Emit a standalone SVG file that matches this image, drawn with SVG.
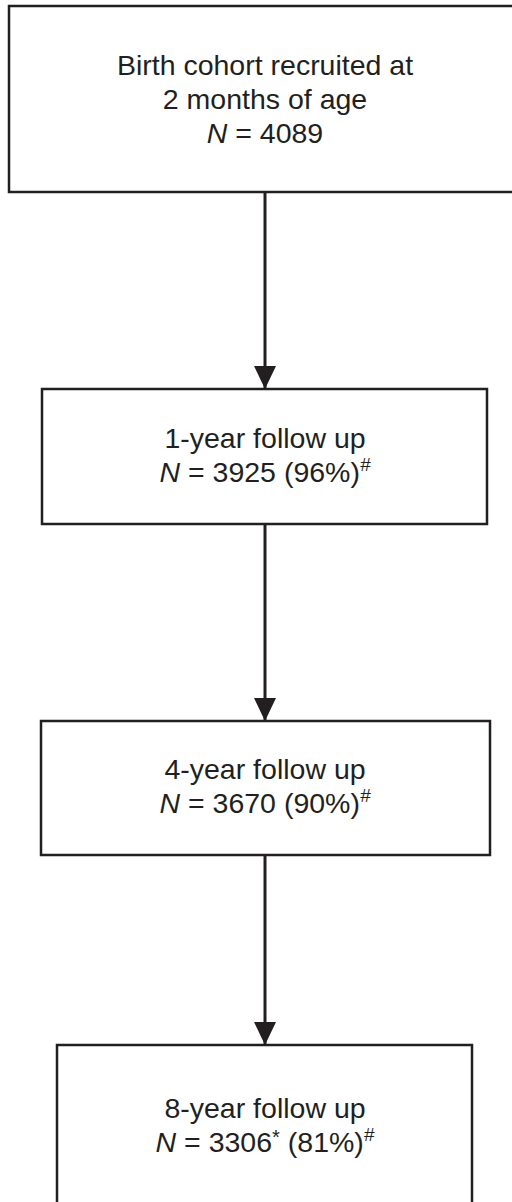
<svg xmlns="http://www.w3.org/2000/svg" width="512" height="1202" viewBox="0 0 512 1202">
<style>
.box{fill:#fff;stroke:#231f20;stroke-width:2.5}
.t{font-family:"Liberation Sans",Arial,sans-serif;font-size:28.5px;fill:#231f20;text-anchor:middle}
.i{font-style:italic}
.sup{font-size:19px;font-style:italic}
.ast{font-size:20px}
.edge{stroke:#231f20;stroke-width:3;fill:none;marker-end:url(#arr)}
</style>
<defs>
<marker id="arr" markerWidth="23" markerHeight="22" viewBox="0 0 23 22" refX="23" refY="11" orient="auto" markerUnits="userSpaceOnUse">
<path d="M0,0 L23,11 L0,22 Z" fill="#231f20"/>
</marker>
</defs>
<rect width="512" height="1202" fill="#fff"/>
<g id="edges">
<line class="edge" x1="265" y1="193" x2="265" y2="389"/>
<line class="edge" x1="265" y1="525" x2="265" y2="721"/>
<line class="edge" x1="265" y1="856" x2="265" y2="1045"/>
</g>
<g id="n1">
<rect class="box" x="9" y="6" width="520" height="186"/>
<text class="t" x="265" y="75">Birth cohort recruited at</text>
<text class="t" x="265" y="109">2 months of age</text>
<text class="t" x="265" y="143"><tspan class="i">N</tspan> = 4089</text>
</g>
<g id="n2">
<rect class="box" x="42" y="389" width="445" height="135"/>
<text class="t" x="265" y="448">1-year follow up</text>
<text class="t" x="265" y="482"><tspan class="i">N</tspan> = 3925 (96%)<tspan class="sup" dy="-11">#</tspan></text>
</g>
<g id="n3">
<rect class="box" x="41" y="721" width="449" height="134"/>
<text class="t" x="265" y="779">4-year follow up</text>
<text class="t" x="265" y="813"><tspan class="i">N</tspan> = 3670 (90%)<tspan class="sup" dy="-11">#</tspan></text>
</g>
<g id="n4">
<rect class="box" x="57" y="1045" width="415" height="180"/>
<text class="t" x="265" y="1118">8-year follow up</text>
<text class="t" x="265" y="1152"><tspan class="i">N</tspan> = 3306<tspan class="ast" dy="-8">*</tspan><tspan dy="8"> (81%)</tspan><tspan class="sup" dy="-11">#</tspan></text>
</g>
</svg>
